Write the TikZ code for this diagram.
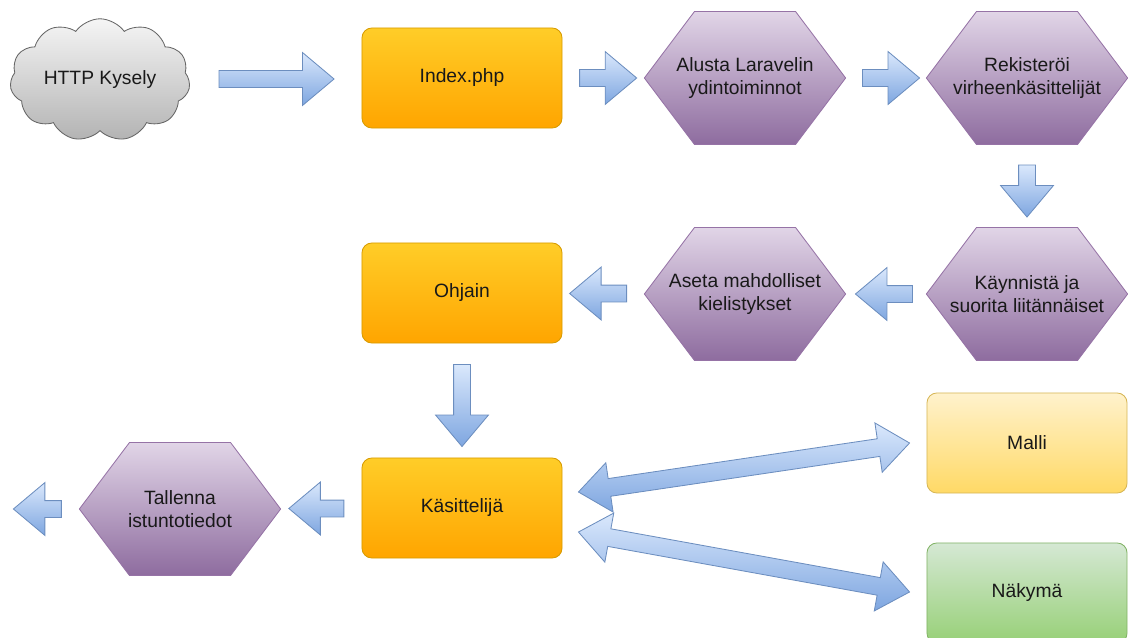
\documentclass[tikz,border=0pt]{standalone}
\usepackage{fontspec}
\setmainfont{Liberation Sans}
\usepackage{tikz}
\usetikzlibrary{shapes.geometric,shapes.symbols,shapes.arrows,positioning,calc}

\definecolor{orangeTop}{HTML}{FFCD28}
\definecolor{orangeBottom}{HTML}{FFA500}
\definecolor{orangeLine}{HTML}{D79B00}
\definecolor{purpleTop}{HTML}{E1D5E7}
\definecolor{purpleBottom}{HTML}{8E6C9F}
\definecolor{purpleLine}{HTML}{9673A6}
\definecolor{yellowTop}{HTML}{FFF2CC}
\definecolor{yellowBottom}{HTML}{FFD966}
\definecolor{yellowLine}{HTML}{D6B656}
\definecolor{greenTop}{HTML}{D5E8D4}
\definecolor{greenBottom}{HTML}{97D077}
\definecolor{greenLine}{HTML}{82B366}
\definecolor{greyTop}{HTML}{F5F5F5}
\definecolor{greyBottom}{HTML}{B3B3B3}
\definecolor{greyLine}{HTML}{666666}
\definecolor{blueTop}{HTML}{DAE8FC}
\definecolor{blueBottom}{HTML}{7EA6E0}
\definecolor{blueLine}{HTML}{6C8EBF}

\begin{document}
\begin{tikzpicture}[x=0.025cm, y=-0.025cm, font=\fontsize{13.7}{16}\selectfont, text=black!90, semithick]
        \tikzset{
           box/.style={
                        rectangle,
                        rounded corners=7pt,
                        minimum width=5cm,
                        minimum height=2.5cm,
                        align=center
                       },
           orangeBox/.style={box, draw=orangeLine, top color=orangeTop, bottom color=orangeBottom},
           yellowBox/.style={box, draw=yellowLine, top color=yellowTop, bottom color=yellowBottom},
           greenBox/.style={box, draw=greenLine, top color=greenTop, bottom color=greenBottom},
           hexa/.style={
                        signal,
                        signal to=west and east,
                        signal pointer angle=106,
                        inner xsep=1.2625cm,
                        inner ysep=0pt,
                        minimum height=3.325cm,
                        draw=purpleLine,
                        top color=purpleTop,
                        bottom color=purpleBottom,
                        label={[align=center, text=black!90]center:#1}
                       },
           blockArrow/.style={
                        single arrow,
                        single arrow head extend=0.45cm,
                        single arrow tip angle=80,
                        inner xsep=0pt,
                        inner ysep=0.2cm,
                        draw=blueLine,
                        top color=blueTop,
                        bottom color=blueBottom
                       },
           leftArrow/.style={blockArrow, shape border rotate=180},
           downArrow/.style={blockArrow, shape border rotate=270, inner xsep=0.2cm, inner ysep=0pt},
           dblArrow/.style={
                        double arrow,
                        double arrow head extend=0.4cm,
                        double arrow tip angle=77,
                        inner xsep=0pt,
                        inner ysep=0.2125cm,
                        draw=blueLine,
                        top color=blueTop,
                        bottom color=blueBottom
                       },
                 };
        \useasboundingbox (0,0) rectangle (1128,637);
        %----------------
        \node[cloud, cloud puffs=11, cloud puff arc=110, aspect=1.7,
              minimum width=4.5cm, minimum height=2.6cm,
              draw=greyLine, top color=greyTop, bottom color=greyBottom] (http) at (100,80) {HTTP Kysely};
        \node[orangeBox] (index) at (462,78) {Index.php};
        \node[hexa={Alusta Laravelin\\ydintoiminnot}] (alusta) at (745,78) {};
        \node[hexa={Rekisteröi\\virheenkäsittelijät}] (rekisteroi) at (1027,78) {};
        \node[hexa={Käynnistä ja\\suorita liitännäiset}] (kaynnista) at (1027,294) {};
        \node[hexa={Aseta mahdolliset\\kielistykset}] (aseta) at (745,294) {};
        \node[orangeBox] (ohjain) at (462,293) {Ohjain};
        \node[orangeBox] (kasittelija) at (462,508) {Käsittelijä};
        \node[hexa={Tallenna\\istuntotiedot}] (tallenna) at (180,509) {};
        \node[yellowBox] (malli) at (1027,443) {Malli};
        \node[greenBox] (nakyma) at (1027,593) {Näkymä};
        %----------------
        \node[blockArrow, minimum height=2.875cm] (httpToIndex) at ($(http.east)!0.5!(index.west)+(-4,0)$) {};
        \node[blockArrow, minimum height=1.425cm] (indexToAlusta) at ($(index.east)!0.5!(alusta.west)$) {};
        \node[blockArrow, minimum height=1.425cm] (alustaToRek) at ($(alusta.east)!0.5!(rekisteroi.west)$) {};
        \node[downArrow, minimum height=1.3cm] (rekToKay) at ($(rekisteroi.south)!0.5!(kaynnista.north)$) {};
        \node[leftArrow, minimum height=1.425cm] (kayToAseta) at ($(kaynnista.west)!0.5!(aseta.east)+(3,0)$) {};
        \node[leftArrow, minimum height=1.425cm] (asetaToOhjain) at ($(aseta.west)!0.5!(ohjain.east)$) {};
        \node[downArrow, minimum height=2.05cm] (ohjainToKas) at ($(ohjain.south)!0.5!(kasittelija.north)$) {};
        \node[leftArrow, minimum height=1.375cm] (kasToTallenna) at ($(kasittelija.west)!0.5!(tallenna.east)$) {};
        \node[leftArrow, minimum height=1.2cm, left=0.425cm of tallenna] (tallennaOut) {};
        %----------------
        \coordinate (kasTop) at ($(kasittelija.east)+(16,-16)$);
        \coordinate (kasBottom) at ($(kasittelija.east)+(16,24)$);
        \coordinate (malliTip) at ($(malli.west)+(-17,0)$);
        \coordinate (nakymaTip) at ($(nakyma.west)+(-17,-1)$);
        \path let \p1=($(malliTip)-(kasTop)$), \n1={atan2(\y1,\x1)}, \n2={veclen(\x1,\y1)} in
              node[dblArrow, rotate=\n1, minimum height=\n2] (kasMalli) at ($(kasTop)!0.5!(malliTip)$) {};
        \path let \p1=($(nakymaTip)-(kasBottom)$), \n1={atan2(\y1,\x1)}, \n2={veclen(\x1,\y1)} in
              node[dblArrow, rotate=\n1, minimum height=\n2] (kasNakyma) at ($(kasBottom)!0.5!(nakymaTip)$) {};
    \end{tikzpicture}
\end{document}
